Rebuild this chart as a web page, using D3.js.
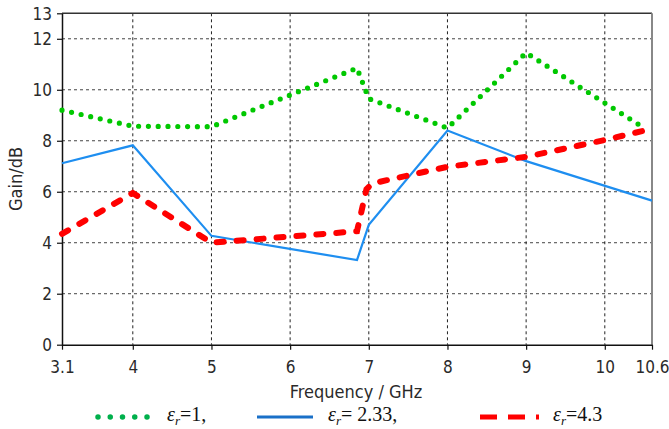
<!DOCTYPE html>
<html>
<head>
<meta charset="utf-8">
<script src="https://cdn.jsdelivr.net/npm/d3@7"></script>
<style>
  body { margin: 0; background: #fff; }
  .tick text { font-family: "Liberation Sans Narrow", "DejaVu Sans Condensed", sans-serif; font-size: 17px; fill: #2a2a2a; }
  .lbl { font-family: "Liberation Sans Narrow", "DejaVu Sans Condensed", sans-serif; font-size: 18px; fill: #2a2a2a; }
  .leg { font-family: "Liberation Serif", serif; font-size: 20px; fill: #111; }
</style>
</head>
<body>
<svg class="chart"></svg>
<script>
// DATA ////////////////////////////////////////
const xTicks = [3.1, 4, 5, 6, 7, 8, 9, 10, 10.6];
const yTicks = [0, 2, 4, 6, 8, 10, 12, 13];

// eps_r = 1
const freq1 = [3.1, 4, 5, 6.85, 7.0, 8, 9, 10.5];
const gain1 = [9.2, 8.57, 8.55, 10.85, 9.65, 8.5, 11.45, 8.5];
// eps_r = 2.33
const freq2 = [3.1, 4, 5, 6.85, 7.0, 8, 9, 10.6];
const gain2 = [7.12, 7.82, 4.27, 3.32, 4.7, 8.4, 7.2, 5.65];
// eps_r = 4.3
const freq3 = [3.1, 4, 5, 6.85, 6.97, 7.05, 8, 9, 10, 10.5];
const gain3 = [4.35, 5.95, 4.0, 4.45, 6.1, 6.33, 6.98, 7.37, 8.03, 8.4];

const legendLabels = ["=1,", "= 2.33,", "=4.3"];

// DEFINITIONS /////////////////////////////////
const margin = { top: 13.3, bottom: 84.3, right: 17, left: 62 };
const W = 669, H = 429;
const width = W - margin.left - margin.right;
const height = H - margin.top - margin.bottom;

const svg = d3.select(".chart").attr("width", W).attr("height", H);
const chartG = svg.append("g")
  .attr("transform", `translate(${margin.left}, ${margin.top})`);

const x = d3.scaleLinear().domain([3.1, 10.6]).range([0, width]);
const y = d3.scaleLinear().domain([0, 13]).range([height, 0]);

// GRID ////////////////////////////////////////
chartG.selectAll(".hgrid")
  .data(yTicks.filter((d) => d > 0 && d < 13))
  .join("line")
  .attr("x1", 0).attr("x2", width)
  .attr("y1", (d) => y(d)).attr("y2", (d) => y(d))
  .attr("stroke", "#444").attr("stroke-width", 1)
  .attr("stroke-dasharray", "3,3");

chartG.selectAll(".vgrid")
  .data(xTicks.filter((d) => d > 3.1 && d < 10.6))
  .join("line")
  .attr("x1", (d) => x(d)).attr("x2", (d) => x(d))
  .attr("y1", 0).attr("y2", height)
  .attr("stroke", "#222").attr("stroke-width", 1)
  .attr("stroke-dasharray", "3,3");

// frame top / right
chartG.append("line").attr("x1", 0).attr("x2", width).attr("y1", 0).attr("y2", 0)
  .attr("stroke", "#333").attr("stroke-width", 1.5);
chartG.append("line").attr("x1", width).attr("x2", width).attr("y1", 0).attr("y2", height)
  .attr("stroke", "#888").attr("stroke-width", 2);

// AXES ////////////////////////////////////////
const xAxis = chartG.append("g")
  .attr("transform", `translate(0, ${height})`)
  .call(d3.axisBottom(x).tickValues(xTicks).tickSize(5).tickSizeOuter(0)
    .tickFormat((d) => d));
const yAxis = chartG.append("g")
  .call(d3.axisLeft(y).tickValues(yTicks).tickSize(5).tickSizeOuter(0)
    .tickFormat((d) => d));

[xAxis, yAxis].forEach((a) => {
  a.select(".domain").attr("stroke", "#111").attr("stroke-width", 1.5);
  a.selectAll(".tick line").attr("stroke", "#111").attr("stroke-width", 1.2);
});
xAxis.selectAll(".tick text").attr("dy", null).attr("y", 28);
yAxis.selectAll(".tick text").attr("dy", "0.36em").attr("x", -10);

// LINES ///////////////////////////////////////
const line = d3.line().x((d) => x(d[0])).y((d) => y(d[1]));

chartG.append("path")
  .datum(d3.zip(freq2, gain2))
  .attr("d", line)
  .attr("fill", "none")
  .attr("stroke", "#1e8ef0").attr("stroke-width", 2.2);

chartG.append("path")
  .datum(d3.zip(freq3, gain3))
  .attr("d", line)
  .attr("fill", "none")
  .attr("stroke", "#ff0000").attr("stroke-width", 6)
  .attr("stroke-linecap", "round")
  .attr("stroke-dasharray", "7,13");

chartG.append("path")
  .datum(d3.zip(freq1, gain1))
  .attr("d", line)
  .attr("fill", "none")
  .attr("stroke", "#00c800").attr("stroke-width", 5.2)
  .attr("stroke-linecap", "round")
  .attr("stroke-dasharray", "0,9.8");

// LABELS //////////////////////////////////////
svg.append("text").attr("class", "lbl")
  .attr("x", 356).attr("y", 398).attr("text-anchor", "middle")
  .text("Frequency / GHz");
svg.append("text").attr("class", "lbl")
  .attr("transform", "translate(22, 179) rotate(-90)")
  .attr("text-anchor", "middle")
  .text("Gain/dB");

// LEGEND //////////////////////////////////////
const legY = 417;
svg.append("line").attr("x1", 98).attr("x2", 147.1).attr("y1", legY).attr("y2", legY)
  .attr("stroke", "#00b04c").attr("stroke-width", 5.5)
  .attr("stroke-linecap", "round").attr("stroke-dasharray", "0,12.25");
svg.append("line").attr("x1", 257).attr("x2", 313).attr("y1", legY).attr("y2", legY)
  .attr("stroke", "#1a70c8").attr("stroke-width", 2.8);
svg.append("line").attr("x1", 480).attr("x2", 539).attr("y1", legY).attr("y2", legY)
  .attr("stroke", "#ff0000").attr("stroke-width", 5)
  .attr("stroke-dasharray", "17,11");

const legX = [167, 328, 553];
legendLabels.forEach((lab, i) => {
  const t = svg.append("text").attr("class", "leg").attr("x", legX[i]).attr("y", 421);
  t.append("tspan").attr("font-style", "italic").text("ε");
  t.append("tspan").attr("font-style", "italic").attr("font-size", "13px")
    .attr("dy", 4).text("r");
  t.append("tspan").attr("dy", -4).text(lab);
});
</script>
</body>
</html>
